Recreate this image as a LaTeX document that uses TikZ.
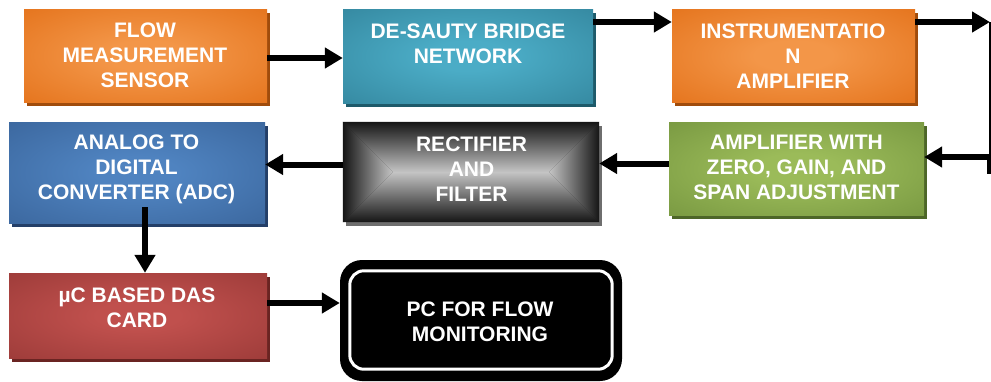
\documentclass[tikz,border=0pt]{standalone}
\usepackage{fontspec}
\setmainfont{Liberation Sans}
\usetikzlibrary{arrows.meta,shadows}

% box colours: centre glow, edge, drop shadow
\definecolor{orIn}{HTML}{F39648}\definecolor{orOut}{HTML}{E0690F}\definecolor{orSh}{HTML}{A04C0C}
\definecolor{tlIn}{HTML}{4BACC6}\definecolor{tlOut}{HTML}{2E7D94}\definecolor{tlSh}{HTML}{1E5A6A}
\definecolor{blIn}{HTML}{4F83C0}\definecolor{blOut}{HTML}{355E93}\definecolor{blSh}{HTML}{243F68}
\definecolor{gnIn}{HTML}{9BBB59}\definecolor{gnOut}{HTML}{6E8E3A}\definecolor{gnSh}{HTML}{4D6628}
\definecolor{rdIn}{HTML}{C0504D}\definecolor{rdOut}{HTML}{923533}\definecolor{rdSh}{HTML}{6A2422}
\definecolor{gyDk}{HTML}{151515}\definecolor{gyMd}{HTML}{9A9A9A}\definecolor{gyLt}{HTML}{C4C4C4}\definecolor{gySh}{HTML}{6E6E6E}

\newcommand\mkglow[3]{\pgfdeclareradialshading{#1}{\pgfpointorigin}{color(0bp)=(#2); color(8bp)=(#2); color(46bp)=(#3); color(50bp)=(#3)}}
\mkglow{glowOr}{orIn}{orOut}
\mkglow{glowTl}{tlIn}{tlOut}
\mkglow{glowBl}{blIn}{blOut}
\mkglow{glowGn}{gnIn}{gnOut}
\mkglow{glowRd}{rdIn}{rdOut}

\tikzset{
  blockbox/.style 2 args={rectangle, inner sep=0pt, shading=#1,
    general shadow={fill=#2, shadow xshift=3pt, shadow yshift=-4pt}},
  lbl/.style={text=white, align=center, inner sep=0pt,
    font=\bfseries\fontsize{21}{25}\selectfont},
  arr/.style={line width=6pt, -{Triangle[length=18pt,width=20pt]}},
}

\begin{document}
\begin{tikzpicture}[x=1pt,y=-1pt]
\useasboundingbox (0,0) rectangle (991,381);
\fill[white] (0,0) rectangle (991,381);

% blocks
\node[blockbox={glowOr}{orSh}, minimum width=243pt, minimum height=93pt] (b1) at (145.5,55.5) {};
\node[blockbox={glowTl}{tlSh}, minimum width=250pt, minimum height=94pt] (b2) at (468,56) {};
\node[blockbox={glowOr}{orSh}, minimum width=243pt, minimum height=93pt] (b3) at (793.5,55.5) {};
\node[blockbox={glowBl}{blSh}, minimum width=256pt, minimum height=101pt] (b4) at (137,172.5) {};
\node[rectangle, inner sep=0pt, fill=gyDk,
      general shadow={fill=gySh, shadow xshift=3pt, shadow yshift=-4pt},
      minimum width=256pt, minimum height=100pt] (b5) at (471,172) {};
\node[blockbox={glowGn}{gnSh}, minimum width=255pt, minimum height=93pt] (b6) at (796.5,168.5) {};
\node[blockbox={glowRd}{rdSh}, minimum width=258pt, minimum height=85pt] (b7) at (138,315.5) {};
\node[rectangle, rounded corners=22pt, fill=black, inner sep=0pt,
      minimum width=282pt, minimum height=121pt] (b8) at (481,320.5) {};

% bevelled grey gradient of the rectifier block
\coordinate (c5l) at ([xshift=50pt]b5.west);
\coordinate (c5r) at ([xshift=-50pt]b5.east);
\shade[top color=gyDk, middle color=gyMd, bottom color=gyLt] (b5.north west) -- (b5.north east) -- (c5r) -- (c5l) -- cycle;
\shade[top color=gyLt, middle color=gyMd, bottom color=gyDk] (b5.south west) -- (b5.south east) -- (c5r) -- (c5l) -- cycle;
\shade[left color=gyDk, middle color=gyMd, right color=gyLt] (b5.north west) -- (c5l) -- (b5.south west) -- cycle;
\shade[left color=gyLt, middle color=gyMd, right color=gyDk] (b5.north east) -- (c5r) -- (b5.south east) -- cycle;

% white inner ring of the PC block
\draw[white, line width=3pt, rounded corners=14pt]
  ([shift={(10pt,-11pt)}]b8.north west) rectangle ([shift={(-10pt,12pt)}]b8.south east);

% labels
\node[lbl] (t1) at (145,55.5) {FLOW\\MEASUREMENT\\SENSOR};
\node[lbl] (t2) at (468,44) {DE-SAUTY BRIDGE\\NETWORK};
\node[lbl] (t3) at (793,56.5) {INSTRUMENTATIO\\N\\AMPLIFIER};
\node[lbl] (t4) at (136.5,169) {ANALOG TO\\DIGITAL\\CONVERTER (ADC)};
\node[lbl] (t5) at (471.5,169) {RECTIFIER\\AND\\FILTER};
\node[lbl] (t6) at (796.5,167.5) {AMPLIFIER WITH\\ZERO, GAIN, AND\\SPAN ADJUSTMENT};
\node[lbl] (t7) at (137,308) {µC BASED DAS\\CARD};
\node[lbl] (t8) at (480,322) {PC FOR FLOW\\MONITORING};

% connectors
\coordinate (q1) at ([yshift=-2.5pt]b1.east);
\coordinate (q2) at ([yshift=34pt]b2.east);
\coordinate (q3) at ([yshift=33.5pt]b3.east);
\coordinate (rt) at (990,22);
\coordinate (rb) at (990,157);
\coordinate (rend) at (990,174);
\coordinate (q6) at ([yshift=5pt]b6.west);
\coordinate (q5) at ([yshift=7.5pt]b5.west);
\coordinate (q4) at ([xshift=8pt,yshift=16pt]b4.south);
\coordinate (q7) at ([yshift=12.5pt]b7.east);

\draw[arr] (q1) -- (q1 -| b2.west);
\draw[arr] (q2) -- (q2 -| b3.west);
\draw[line width=1.7pt] (rt) -- (rend);
\draw[line width=6pt] (rb) -- (rend);
\draw[arr] (q3) -- (rt);
\draw[arr] (rb) -- (rb -| b6.east);
\draw[arr] (q6) -- (q6 -| b5.east);
\draw[arr] (q5) -- (q5 -| b4.east);
\draw[arr] (q4) -- (q4 |- b7.north);
\draw[arr] (q7) -- (q7 -| b8.west);
\end{tikzpicture}
\end{document}
